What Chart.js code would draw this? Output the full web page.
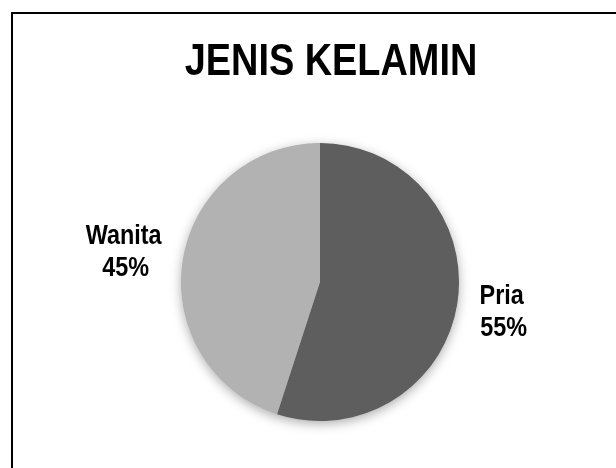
<!DOCTYPE html>
<html>
<head>
<meta charset="utf-8">
<script src="https://cdn.jsdelivr.net/npm/chart.js@4.4.1/dist/chart.umd.min.js"></script>
<style>
  html, body { margin: 0; padding: 0; background: #fff; }
  #wrap { width: 616px; height: 468px; position: relative; }
</style>
</head>
<body>
<div id="wrap"><canvas id="pie"></canvas></div>
<script>
// chart data
const chartTitle = "JENIS KELAMIN";
const categories = ["Pria", "Wanita"];
const values = [55, 45];
const sliceColors = ["#5e5e5e", "#b2b2b2"];

// narrow bold font: use Liberation Sans Narrow if present, else squeeze Liberation Sans
function narrowFont(ctx, size) {
    ctx.font = `bold ${size}px "Liberation Sans Narrow", "Liberation Sans"`;
    const w1 = ctx.measureText("JENIS KELAMIN").width;
    ctx.font = `bold ${size}px "Liberation Sans"`;
    const w2 = ctx.measureText("JENIS KELAMIN").width;
    if (w1 / w2 < 0.95) {
        ctx.font = `bold ${size}px "Liberation Sans Narrow", "Liberation Sans"`;
        return 1;
    }
    return 0.82;
}

function drawText(ctx, text, x, y, size, stretch = 1) {
    ctx.save();
    const sx = narrowFont(ctx, size) * stretch;
    ctx.translate(x, y);
    ctx.scale(sx, 1);
    ctx.textAlign = "center";
    ctx.textBaseline = "alphabetic";
    ctx.fillStyle = "#000";
    ctx.fillText(text, 0, 0);
    ctx.restore();
}

// frame + title + soft shadow behind the pie
const decorPlugin = {
    id: "decor",
    beforeDraw(chart) {
        const ctx = chart.ctx;
        ctx.save();
        ctx.strokeStyle = "#000";
        ctx.lineWidth = 2;
        ctx.strokeRect(12, 13, 700, 600);
        ctx.restore();
        drawText(ctx, chartTitle, 331, 75, 44, 1.05);
    },
    beforeDatasetsDraw(chart) {
        const arc = chart.getDatasetMeta(0).data[0];
        if (!arc) return;
        const ctx = chart.ctx;
        ctx.save();
        ctx.shadowColor = "rgba(0,0,0,0.35)";
        ctx.shadowBlur = 12;
        ctx.shadowOffsetY = 3;
        ctx.fillStyle = "#888";
        ctx.beginPath();
        ctx.arc(arc.x, arc.y, arc.outerRadius - 0.5, 0, Math.PI * 2);
        ctx.fill();
        ctx.restore();
    }
};

// outside labels "name / xx%" placed on each slice's mid angle
const outLabelPlugin = {
    id: "outLabels",
    afterDatasetsDraw(chart) {
        const ctx = chart.ctx;
        const meta = chart.getDatasetMeta(0);
        const total = values.reduce((a, b) => a + b, 0);
        meta.data.forEach((arc, i) => {
            const mid = (arc.startAngle + arc.endAngle) / 2;
            const cosA = Math.cos(mid), sinA = Math.sin(mid);
            const halfW = categories[i].length > 4 ? 38 : 23;
            const r = arc.outerRadius + 18 + halfW * Math.abs(cosA) + 27 * Math.abs(sinA);
            const cx = arc.x + r * cosA;
            const cy = arc.y + r * sinA;
            const pct = Math.round(values[i] / total * 100) + "%";
            drawText(ctx, categories[i], cx, cy - 6.5, 28, 1.02);
            drawText(ctx, pct, cx + 2, cy + 25.5, 28, 1.02);
        });
    }
};

const ctx = document.getElementById("pie").getContext("2d");
new Chart(ctx, {
    type: "pie",
    data: {
        labels: categories,
        datasets: [{
            data: values,
            backgroundColor: sliceColors,
            borderWidth: 0
        }]
    },
    options: {
        responsive: true,
        maintainAspectRatio: false,
        animation: false,
        layout: {
            // puts the pie centre near (320, 282), radius ~139
            padding: { left: 181, right: 157, top: 143, bottom: 47 }
        },
        plugins: {
            legend: { display: false },
            title: { display: false },
            tooltip: { enabled: false }
        }
    },
    plugins: [decorPlugin, outLabelPlugin]
});
</script>
</body>
</html>
